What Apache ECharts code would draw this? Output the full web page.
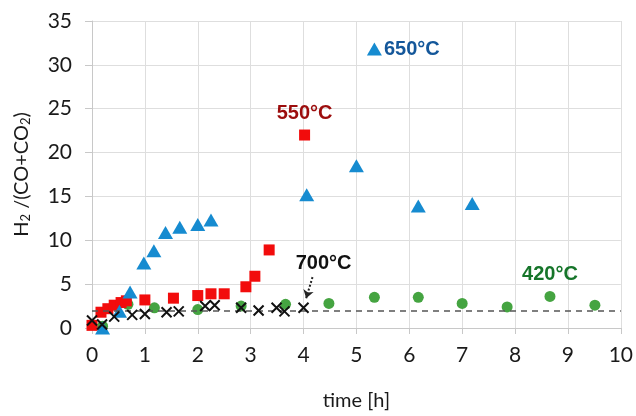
<!DOCTYPE html>
<html>
<head>
<meta charset="utf-8">
<script src="https://cdn.jsdelivr.net/npm/echarts@6/dist/echarts.min.js"></script>
<style>
  html, body { margin: 0; padding: 0; background: #fff; }
  #chart { width: 636px; height: 416px; }
</style>
</head>
<body>
<div id="chart"></div>
<script>
// H2/(CO+CO2) over time for four temperatures

const t650 = [0.2, 0.52, 0.72, 0.98, 1.17, 1.39, 1.66, 2.0, 2.25, 4.06, 5.0, 5.34, 6.17, 7.19];
const h650 = [0.0, 1.9, 4.1, 7.4, 8.8, 10.9, 11.5, 11.8, 12.3, 15.2, 18.5, 31.8, 13.9, 14.2];

const t550 = [0.0, 0.17, 0.3, 0.42, 0.55, 0.65, 1.0, 1.54, 2.0, 2.25, 2.5, 2.91, 3.08, 3.35, 4.02];
const h550 = [0.3, 1.8, 2.2, 2.6, 2.9, 3.1, 3.2, 3.4, 3.7, 3.9, 3.9, 4.7, 5.9, 8.9, 22.0];

const t420 = [0.2, 0.68, 1.18, 2.0, 2.82, 3.66, 4.48, 5.34, 6.17, 7.0, 7.85, 8.66, 9.51];
const h420 = [0.2, 2.7, 2.3, 2.1, 2.5, 2.7, 2.8, 3.5, 3.5, 2.8, 2.4, 3.6, 2.6];

const t700 = [0.0, 0.19, 0.42, 0.76, 1.0, 1.41, 1.64, 2.14, 2.32, 2.82, 3.15, 3.49, 3.64, 4.0];
const h700 = [0.85, 0.4, 1.3, 1.5, 1.6, 1.8, 1.9, 2.5, 2.6, 2.3, 2.0, 2.3, 1.9, 2.3];

const refLevel = 2;
const xTicks = [0, 10, 1];
const yTicks = [0, 35, 5];

const pairs = (xs, ys) => xs.map((x, i) => [x, ys[i]]);

// put a text label on one point of a series
function labelled(data, idx, text, color, position, distance) {
    return data.map((d, i) => i !== idx ? d : {
        value: d,
        label: {
            show: true, formatter: text, position: position, distance: distance,
            color: color, fontSize: 20, fontWeight: 'bold', fontFamily: 'Liberation Sans'
        }
    });
}

const chart = echarts.init(document.getElementById('chart'));

chart.setOption({
    animation: false,
    grid: { left: 92, right: 13, top: 21, bottom: 84 },
    xAxis: {
        type: 'value', min: xTicks[0], max: xTicks[1], interval: xTicks[2],
        name: 'time [h]', nameLocation: 'middle', nameGap: 63,
        nameTextStyle: { fontSize: 20, color: '#1a1a1a', fontFamily: 'Lato' },
        axisLine: { lineStyle: { color: '#c8c8c8' } },
        axisTick: { show: true, length: 6, lineStyle: { color: '#c8c8c8' } },
        axisLabel: { fontSize: 21, color: '#1a1a1a', margin: 17, fontFamily: 'Lato' },
        splitLine: { lineStyle: { color: '#dedede' } }
    },
    yAxis: {
        type: 'value', min: yTicks[0], max: yTicks[1], interval: yTicks[2],
        name: '{a|H}{s|2}{a| /(CO+CO}{s|2}{a|)}', nameLocation: 'middle', nameGap: 60,
        nameTextStyle: {
            rich: {
                a: { fontSize: 20, color: '#1a1a1a', fontFamily: 'Lato' },
                s: { fontSize: 13, color: '#1a1a1a', fontFamily: 'Lato', verticalAlign: 'bottom', padding: [8, 0, 0, 0] }
            }
        },
        axisLine: { show: true, lineStyle: { color: '#c8c8c8' } },
        axisTick: { show: true, length: 7, lineStyle: { color: '#c8c8c8' } },
        axisLabel: { fontSize: 21, color: '#1a1a1a', margin: 20, fontFamily: 'Lato' },
        splitLine: { lineStyle: { color: '#dedede' } }
    },
    series: [
        {
            name: '700°C', type: 'scatter', symbol: 'path://M0,0 L10,10 M10,0 L0,10',
            symbolSize: 10, z: 5,
            itemStyle: { color: 'none', borderColor: '#111', borderWidth: 2, opacity: 1 },
            data: pairs(t700, h700),
            markLine: {
                silent: true, symbol: 'none',
                label: { show: false },
                lineStyle: { color: '#555', type: [6, 5], width: 1.5 },
                data: [{ yAxis: refLevel }]
            },
            markPoint: {
                silent: true,
                symbol: 'circle', symbolSize: 0,
                label: {
                    show: true, formatter: '700°C', color: '#111', fontSize: 20,
                    fontWeight: 'bold', fontFamily: 'Liberation Sans'
                },
                data: [{ coord: [4.38, 7.3] }]
            }
        },
        {
            name: 'arrow', type: 'line', silent: true, symbol: 'none',
            lineStyle: { width: 0 },
            data: [],
            markLine: {
                silent: true, symbol: ['none', 'arrow'], symbolSize: 8,
                label: { show: false },
                lineStyle: { color: '#222', type: 'dotted', width: 2 },
                data: [[{ coord: [4.17, 5.8] }, { coord: [4.05, 3.4] }]]
            }
        },
        {
            name: '420°C', type: 'scatter', symbol: 'circle', symbolSize: 11, z: 3,
            itemStyle: { color: '#45a441', opacity: 1 },
            data: labelled(pairs(t420, h420), 11, '420°C', '#16752a', 'top', 6)
        },
        {
            name: '550°C', type: 'scatter', symbol: 'rect', symbolSize: 11, z: 4,
            itemStyle: { color: '#f20c0c', opacity: 1 },
            data: labelled(pairs(t550, h550), 14, '550°C', '#9c0d0d', 'top', 6)
        },
        {
            name: '650°C', type: 'scatter', symbol: 'triangle', symbolSize: [15, 13], z: 4,
            itemStyle: { color: '#168bd0', opacity: 1 },
            data: labelled(pairs(t650, h650), 11, '650°C', '#14579a', 'right', 2)
        }
    ]
});
</script>
</body>
</html>
